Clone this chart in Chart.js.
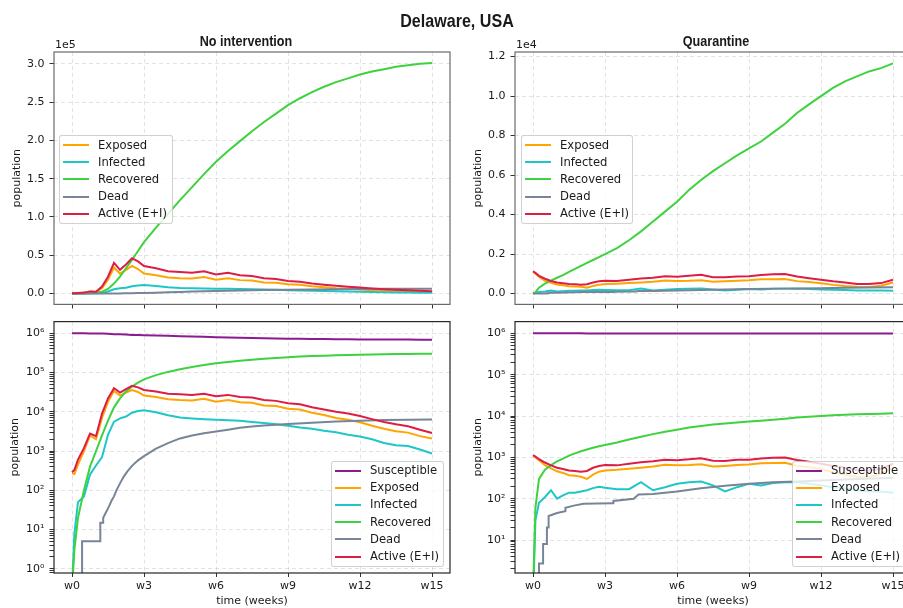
<!DOCTYPE html>
<html>
<head>
<meta charset="utf-8">
<title>Delaware, USA</title>
<script src="https://cdn.jsdelivr.net/npm/chart.js@4.4.1/dist/chart.umd.min.js"></script>
<style>
  html, body { margin: 0; padding: 0; overflow: hidden; background: #fff; }
  body { position: relative; width: 903px; height: 608px; font-family: "DejaVu Sans", sans-serif; color: #1a1a1a; }
  canvas { position: absolute; }
  .label { position: absolute; white-space: nowrap; line-height: 1; }
  .center { transform: translate(-50%, -50%) scaleX(0.87); }
  .cond { font-family: "Liberation Sans", Arial, sans-serif; font-weight: bold; }
  .offset { font-size: 11px; transform: translateY(-50%); }
  .legend { position: absolute; box-sizing: border-box; padding: 0.5px 0; background: rgba(255,255,255,0.8);
            border: 1px solid rgba(0,0,0,0.18); border-radius: 3px; font-size: 11.6px; }
  .legend .row { position: relative; height: 17.2px; line-height: 17.2px; white-space: nowrap; }
  .legend .swatch { position: absolute; left: 3px; top: 7.6px; width: 26px; height: 2px; }
  .legend .text { position: absolute; left: 38px; }
</style>
</head>
<body>
<canvas id="topLeft" width="460" height="316" style="left:0;top:0"></canvas>
<canvas id="bottomLeft" width="460" height="298" style="left:0;top:310px"></canvas>
<canvas id="topRight" width="451" height="316" style="left:460px;top:0"></canvas>
<canvas id="bottomRight" width="451" height="298" style="left:460px;top:310px"></canvas>

<div class="label center cond" style="left:457px;top:21px;font-size:18.5px">Delaware, USA</div>
<div class="label center cond" style="left:246px;top:41px;font-size:14.5px">No intervention</div>
<div class="label center cond" style="left:716px;top:41px;font-size:14.5px">Quarantine</div>
<div class="label offset" style="left:55px;top:44px">1e5</div>
<div class="label offset" style="left:516px;top:44px">1e4</div>

<script>
// time axis (weeks) shared by most series
const weeks = [0, 0.1, 0.25, 0.5, 0.75, 1, 1.25, 1.5, 1.75, 2, 2.25, 2.5, 2.75, 3,
  3.5, 4, 4.5, 5, 5.5, 6, 6.5, 7, 7.5, 8, 8.5, 9, 9.5, 10, 10.5, 11, 11.5, 12,
  12.5, 13, 13.5, 14, 14.5, 15];
const weekTicks = [0, 3, 6, 9, 12, 15];
const weekLabels = ['w0', 'w3', 'w6', 'w9', 'w12', 'w15'];

// ---- No intervention ----
const noIntSusceptible = [999700, 999650, 999400, 998700, 996800, 996600, 988500, 972000, 947000, 946800,
  928700, 909600, 901900, 896300, 879900, 865400, 847900, 831500, 812200, 799900, 783500, 773100,
  760800, 751500, 741300, 732600, 724400, 718700, 713000, 708400, 704200, 700300, 697500, 695400,
  693000, 691400, 690200, 689700];
const noIntExposed = [270, 260, 450, 1000, 2500, 2000, 7000, 18000, 34000, 26000, 31000, 36000, 32000, 26000,
  24000, 21000, 20000, 19500, 21500, 18000, 20000, 17500, 17000, 14500, 14000, 12000, 11500, 9500,
  8300, 7000, 6300, 5400, 4400, 3700, 3200, 2950, 2400, 2100];
const noIntInfected = [0.3, 8, 50, 70, 250, 430, 700, 2600, 5600, 6800, 7600, 9500, 10500, 11000,
  9800, 8200, 7200, 6800, 6500, 6300, 6100, 5900, 5500, 5200, 4800, 4400, 4000, 3700, 3300, 3000,
  2600, 2350, 2000, 1600, 1400, 1350, 1100, 870];
const noIntRecovered = [0.3, 3, 20, 100, 400, 1000, 2500, 6000, 13000, 22000, 33000, 44000, 55500, 67000,
  86000, 104000, 122000, 139000, 156000, 172000, 186000, 199000, 212000, 224000, 235000, 246000,
  255000, 263000, 270000, 276000, 281000, 286000, 290000, 293000, 296000, 298000, 300000, 301000];
const noIntDeadWeeks = [0, 0.42, 0.42, 1.18, 1.18, 1.3, 1.3, 1.45, 1.55, 1.65, 1.75, 1.85, 2, 2.15, 2.3,
  2.5, 2.75, 3, 3.5, 4, 4.5, 5, 5.5, 6, 6.5, 7, 7.5, 8, 9, 10, 11, 12, 13, 14, 15];
const noIntDead = [0.3, 0.3, 5, 5, 15, 15, 20, 30, 40, 55, 70, 100, 150, 220, 300,
  420, 580, 740, 1150, 1600, 2100, 2500, 2850, 3150, 3500, 3900, 4200, 4450, 4900, 5300, 5650, 5900,
  6150, 6300, 6400];
const noIntActive = [290, 330, 600, 1200, 2800, 2400, 9000, 22000, 40000, 31000, 38000, 46000, 42000, 36000,
  33000, 29000, 28000, 27000, 29000, 25000, 27000, 24000, 23000, 20000, 19000, 16500, 15500, 13000,
  11500, 10000, 9000, 7800, 6500, 5500, 4800, 4300, 3500, 2900];

// ---- Quarantine ----
const quarSusceptible = [998870, 998890, 998850, 998760, 998670, 998600, 998500, 998360, 998210, 998080,
  997910, 997670, 997480, 997320, 997020, 996480, 995960, 995400, 994810, 994350, 993680, 993110,
  992780, 992390, 991920, 991560, 991160, 990610, 990170, 989710, 989370, 989020, 988670, 988390,
  988200, 987960, 987740, 987310];
const quarExposed = [1100, 1000, 850, 650, 540, 460, 420, 370, 360, 340, 300, 380, 450, 480,
  500, 530, 560, 600, 660, 640, 650, 680, 600, 620, 650, 670, 720, 730, 740, 630, 580, 520,
  440, 380, 340, 330, 400, 560];
const quarInfected = [0.3, 30, 80, 110, 160, 100, 120, 140, 140, 150, 160, 180, 195, 185,
  170, 170, 250, 160, 190, 230, 250, 260, 210, 150, 190, 230, 210, 240, 250, 250, 230, 210,
  190, 180, 160, 150, 150, 140];
const quarRecovered = [0.5, 60, 300, 500, 650, 800, 930, 1100, 1250, 1400, 1550, 1700, 1850, 2000,
  2300, 2700, 3150, 3650, 4150, 4650, 5250, 5750, 6200, 6600, 7000, 7350, 7700, 8150, 8600, 9150,
  9580, 10000, 10420, 10750, 11000, 11250, 11420, 11660];
const quarDeadWeeks = [0, 0.25, 0.25, 0.42, 0.42, 0.58, 0.58, 0.65, 0.65, 1.0, 1.35, 1.35, 1.7, 2.1,
  3.3, 3.35, 3.35, 4.2, 4.25, 4.35, 4.4, 5, 5.5, 6, 7, 8, 9, 10, 11, 12, 13, 14, 15];
const quarDead = [0.3, 0.3, 2.7, 2.7, 8, 8, 20, 20, 38, 45, 50, 60, 68, 75,
  78, 78, 88, 100, 107, 120, 127, 130, 140, 150, 178, 205, 230, 250, 262, 275, 290, 305, 320];
const quarActive = [1130, 1050, 900, 750, 640, 560, 520, 480, 470, 450, 470, 560, 620, 650,
  640, 700, 760, 800, 880, 850, 900, 950, 830, 820, 870, 880, 940, 980, 990, 860, 780, 700,
  620, 560, 490, 480, 530, 700];

// y ticks
const noIntLinTicks = [0, 50000, 100000, 150000, 200000, 250000, 300000];
const quarLinTicks = [0, 2000, 4000, 6000, 8000, 10000, 12000];
const logDecades = [-1, 0, 1, 2, 3, 4, 5, 6];

const seriesNames = ['Susceptible', 'Exposed', 'Infected', 'Recovered', 'Dead', 'Active (E+I)'];
const seriesColors = ['#8c1b90', '#ffa500', '#1ec6c8', '#3fd23f', '#778597', '#dc1e46'];

const textColor = '#1a1a1a';
const tickFont = { family: 'DejaVu Sans', size: 11 };
const gridColor = 'rgba(0,0,0,0.14)';
const supDigits = ['⁰', '¹', '²', '³', '⁴', '⁵', '⁶'];

function pts(xs, ys) {
  return xs.map((x, i) => ({ x: x, y: ys[i] }));
}

const framePlugin = {
  id: 'frame',
  afterDatasetsDraw(chart, args, opts) {
    const a = chart.chartArea;
    const ctx = chart.ctx;
    ctx.save();
    ctx.strokeStyle = opts.color;
    ctx.lineWidth = 1.2;
    ctx.strokeRect(a.left, a.top, a.right - a.left, a.bottom - a.top);
    ctx.restore();
  }
};

function xScale(bottom, height) {
  return {
    type: 'linear', min: -0.75, max: 15.75,
    afterBuildTicks: s => { s.ticks = weekTicks.map(v => ({ value: v })); },
    afterFit: s => { s.height = height; },
    ticks: {
      display: bottom, autoSkip: false, maxRotation: 0, padding: 3, color: textColor, font: tickFont,
      callback: v => weekLabels[weekTicks.indexOf(v)]
    },
    grid: { color: gridColor, lineWidth: 0.8, tickColor: '#333', tickLength: 4, tickWidth: 1 },
    border: { display: false, dash: [4, 3] },
    title: { display: bottom, text: 'time (weeks)', color: textColor, font: tickFont, padding: 0 }
  };
}

function yTitle(pad) {
  return { display: true, text: 'population', color: textColor, font: tickFont, padding: { top: pad, bottom: 0 } };
}

function linScale(min, max, ticks, div, width, pad) {
  return {
    type: 'linear', min: min, max: max,
    afterBuildTicks: s => { s.ticks = ticks.map(v => ({ value: v })); },
    afterFit: s => { s.width = width; },
    ticks: { autoSkip: false, padding: 5, color: textColor, font: tickFont, callback: v => (v / div).toFixed(1) },
    grid: { color: gridColor, lineWidth: 0.8, tickColor: '#333', tickLength: 4.5, tickWidth: 1 },
    border: { display: false, dash: [4, 3] },
    title: yTitle(pad)
  };
}

function logScale(min, max, width, pad) {
  return {
    type: 'logarithmic', min: min, max: max,
    afterBuildTicks: s => {
      const t = [];
      logDecades.forEach(d => {
        for (let m = 1; m <= 9; m++) {
          const v = m * Math.pow(10, d);
          if (v >= min && v <= max) t.push({ value: v, decade: m === 1, exp: d });
        }
      });
      s.ticks = t;
    },
    afterFit: s => { s.width = width; },
    ticks: {
      autoSkip: false, padding: 5, color: textColor, font: tickFont,
      callback: (v, i, t) => t[i].decade ? '10' + supDigits[t[i].exp] : ''
    },
    grid: {
      color: c => (c.tick && c.tick.decade) ? gridColor : 'rgba(0,0,0,0)',
      lineWidth: 0.8, tickColor: '#333', tickLength: 4.5, tickWidth: 1
    },
    border: { display: false, dash: [4, 3] },
    title: yTitle(pad)
  };
}

function makeDatasets(list) {
  return list.map((s, i) => ({
    label: seriesNames[s.idx],
    data: pts(s.xs, s.ys),
    borderColor: seriesColors[s.idx],
    backgroundColor: seriesColors[s.idx],
    borderWidth: 2,
    pointRadius: 0,
    tension: 0,
    order: 10 - i
  }));
}

function makeChart(id, datasets, xs, ys, padding, frameColor) {
  return new Chart(document.getElementById(id).getContext('2d'), {
    type: 'line',
    data: { datasets: datasets },
    options: {
      responsive: false, animation: false, devicePixelRatio: 1,
      layout: { padding: padding },
      scales: { x: xs, y: ys },
      plugins: { legend: { display: false }, tooltip: { enabled: false }, frame: { color: frameColor } }
    },
    plugins: [framePlugin]
  });
}

const noIntSeries = [
  { idx: 0, xs: weeks, ys: noIntSusceptible },
  { idx: 1, xs: weeks, ys: noIntExposed },
  { idx: 2, xs: weeks, ys: noIntInfected },
  { idx: 3, xs: weeks, ys: noIntRecovered },
  { idx: 4, xs: noIntDeadWeeks, ys: noIntDead },
  { idx: 5, xs: weeks, ys: noIntActive }
];
const quarSeries = [
  { idx: 0, xs: weeks, ys: quarSusceptible },
  { idx: 1, xs: weeks, ys: quarExposed },
  { idx: 2, xs: weeks, ys: quarInfected },
  { idx: 3, xs: weeks, ys: quarRecovered },
  { idx: 4, xs: quarDeadWeeks, ys: quarDead },
  { idx: 5, xs: weeks, ys: quarActive }
];

makeChart('topLeft', makeDatasets(noIntSeries.slice(1)), xScale(false, 8),
  linScale(-14200, 315400, noIntLinTicks, 1e5, 54, 10.4), { top: 52, left: 0, right: 10, bottom: 0 }, '#6a6a6a');
makeChart('bottomLeft', makeDatasets(noIntSeries), xScale(true, 35),
  logScale(0.781, 1.99e6, 54, 8.4), { top: 6, left: 0, right: 10, bottom: 0 }, '#262626');
makeChart('topRight', makeDatasets(quarSeries.slice(1)), xScale(false, 8),
  linScale(-549, 12235, quarLinTicks, 1e4, 55, 11.1), { top: 52, left: 0, right: 0, bottom: 0 }, '#6a6a6a');
makeChart('bottomRight', makeDatasets(quarSeries), xScale(true, 35),
  logScale(1.594, 1.923e6, 55, 11.1), { top: 6, left: 0, right: 0, bottom: 0 }, '#262626');

// legends
function makeLegend(left, top, width, idxs) {
  const box = document.createElement('div');
  box.className = 'legend';
  box.style.left = left + 'px';
  box.style.top = top + 'px';
  box.style.width = width + 'px';
  idxs.forEach(i => {
    const row = document.createElement('div');
    row.className = 'row';
    row.innerHTML = '<span class="swatch" style="background:' + seriesColors[i] + '"></span>' +
      '<span class="text">' + seriesNames[i] + '</span>';
    box.appendChild(row);
  });
  document.body.appendChild(box);
}
makeLegend(59, 135, 114, [1, 2, 3, 4, 5]);
makeLegend(521, 135, 112, [1, 2, 3, 4, 5]);
makeLegend(331, 460.5, 113, [0, 1, 2, 3, 4, 5]);
makeLegend(792, 460.5, 125, [0, 1, 2, 3, 4, 5]);
</script>
</body>
</html>
